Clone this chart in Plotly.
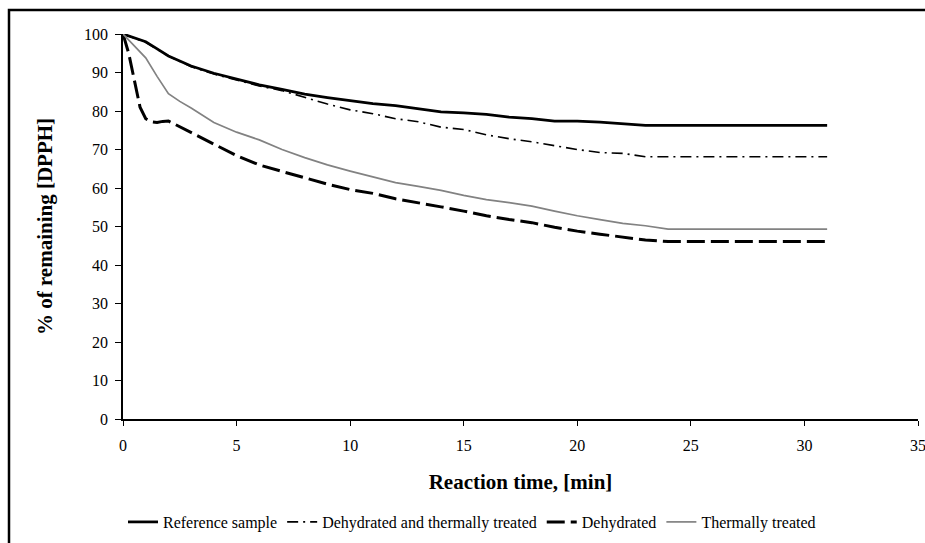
import plotly.graph_objects as go

# ---- data ----
ref_t = list(range(0, 32))
ref_v = [100, 98, 94.3, 91.7, 89.8, 88.3, 86.8, 85.6, 84.4, 83.5, 82.7, 81.9, 81.4, 80.6,
         79.8, 79.5, 79.1, 78.4, 78.0, 77.4, 77.4, 77.1, 76.7, 76.3, 76.3, 76.3, 76.3,
         76.3, 76.3, 76.3, 76.3, 76.3]

dt_t = list(range(0, 32))
dt_v = [100, 97.8, 94.3, 91.5, 89.6, 88.0, 86.5, 85.3, 83.5, 81.8, 80.3, 79.3, 78.0, 77.2,
        75.8, 75.2, 73.8, 72.8, 72.0, 71.0, 70.0, 69.2, 69.0, 68.1, 68.1, 68.1, 68.1,
        68.1, 68.1, 68.1, 68.1, 68.1]

deh_t = [0, 0.25, 0.5, 0.75, 1, 1.25, 1.5, 1.75, 2] + list(range(3, 32))
deh_v = [100, 95, 88, 81, 78, 77.2, 77.0, 77.3, 77.4,
         74.3, 71.4, 68.4, 66.0, 64.3, 62.6, 61.0, 59.6, 58.6, 57.2, 56.2, 55.1, 54.0,
         52.8, 51.8, 51.0, 49.8, 48.8, 48.0, 47.2, 46.5, 46.1, 46.1, 46.1, 46.1, 46.1,
         46.1, 46.1, 46.1]

th_t = [0, 0.5, 1, 1.5, 2, 2.5, 3] + list(range(4, 32))
th_v = [100, 97, 93.8, 89, 84.5, 82.5, 80.8,
        77.0, 74.5, 72.5, 70.0, 67.9, 66.0, 64.4, 62.9, 61.4, 60.4, 59.4, 58.1, 57.0,
        56.2, 55.3, 54.0, 52.8, 51.8, 50.8, 50.2, 49.3, 49.3, 49.3, 49.3, 49.3, 49.3,
        49.3, 49.3]

x_ticks = [0, 5, 10, 15, 20, 25, 30, 35]
y_ticks = [0, 10, 20, 30, 40, 50, 60, 70, 80, 90, 100]

FONT = "Liberation Serif"

fig = go.Figure()
fig.add_trace(go.Scatter(x=ref_t, y=ref_v, mode="lines", name="Reference sample",
                         line=dict(color="black", width=2.75)))
fig.add_trace(go.Scatter(x=dt_t, y=dt_v, mode="lines", name="Dehydrated and thermally treated",
                         line=dict(color="black", width=1.6, dash="11px,5px,2px,5px")))
fig.add_trace(go.Scatter(x=deh_t, y=deh_v, mode="lines", name="Dehydrated",
                         line=dict(color="black", width=3, dash="18px,6px")))
fig.add_trace(go.Scatter(x=th_t, y=th_v, mode="lines", name="Thermally treated",
                         line=dict(color="#828282", width=1.7)))

W, H = 925, 543
L, T = 123, 34
R = W - 918
B = H - 419
pw = W - L - R
ph = H - T - B


def px2paper_x(px):
    return (px - L) / pw


def py2paper_y(py):
    return (H - B - py) / ph


# outer border (top and left visible)
fig.add_shape(type="rect", xref="paper", yref="paper",
              x0=px2paper_x(9), x1=px2paper_x(960),
              y0=py2paper_y(600), y1=py2paper_y(10),
              line=dict(color="black", width=2.5), layer="below")

fig.update_layout(
    width=W, height=H,
    margin=dict(l=L, r=R, t=T, b=B, autoexpand=False),
    paper_bgcolor="white", plot_bgcolor="white",
    font=dict(family=FONT, size=16, color="black"),
    showlegend=True,
    legend=dict(orientation="h", x=px2paper_x(472), xanchor="center",
                y=py2paper_y(522), yanchor="middle",
                font=dict(family=FONT, size=16, color="black"),
                bgcolor="rgba(0,0,0,0)", tracegroupgap=0),
    xaxis=dict(range=[0, 35], tickvals=x_ticks, ticktext=[str(v) for v in x_ticks],
               automargin=False,
               showgrid=False, zeroline=False, showline=True, linecolor="black", linewidth=1.5,
               ticks="outside", ticklen=5, tickcolor="black", tickwidth=1,
               ticklabelstandoff=6, ticklabeloverflow="allow",
               tickfont=dict(family=FONT, size=16, color="black"),
               title=dict(text="<b>Reaction time, [min]</b>", standoff=21,
                          font=dict(family=FONT, size=21, color="black"))),
    yaxis=dict(range=[0, 100], tickvals=y_ticks, ticktext=[str(v) for v in y_ticks],
               automargin=False,
               showgrid=False, zeroline=False, showline=True, linecolor="black", linewidth=1.5,
               ticks="outside", ticklen=6, tickcolor="black", tickwidth=1,
               ticklabelstandoff=4,
               tickfont=dict(family=FONT, size=16, color="black"),
               title=dict(text="<b>% of remaining [DPPH]</b>", standoff=26,
                          font=dict(family=FONT, size=21, color="black"))),
)

fig.write_html(
    "out.html",
    config={"displayModeBar": False},
    post_script="document.body.style.margin='0';document.body.style.overflow='hidden';",
)
